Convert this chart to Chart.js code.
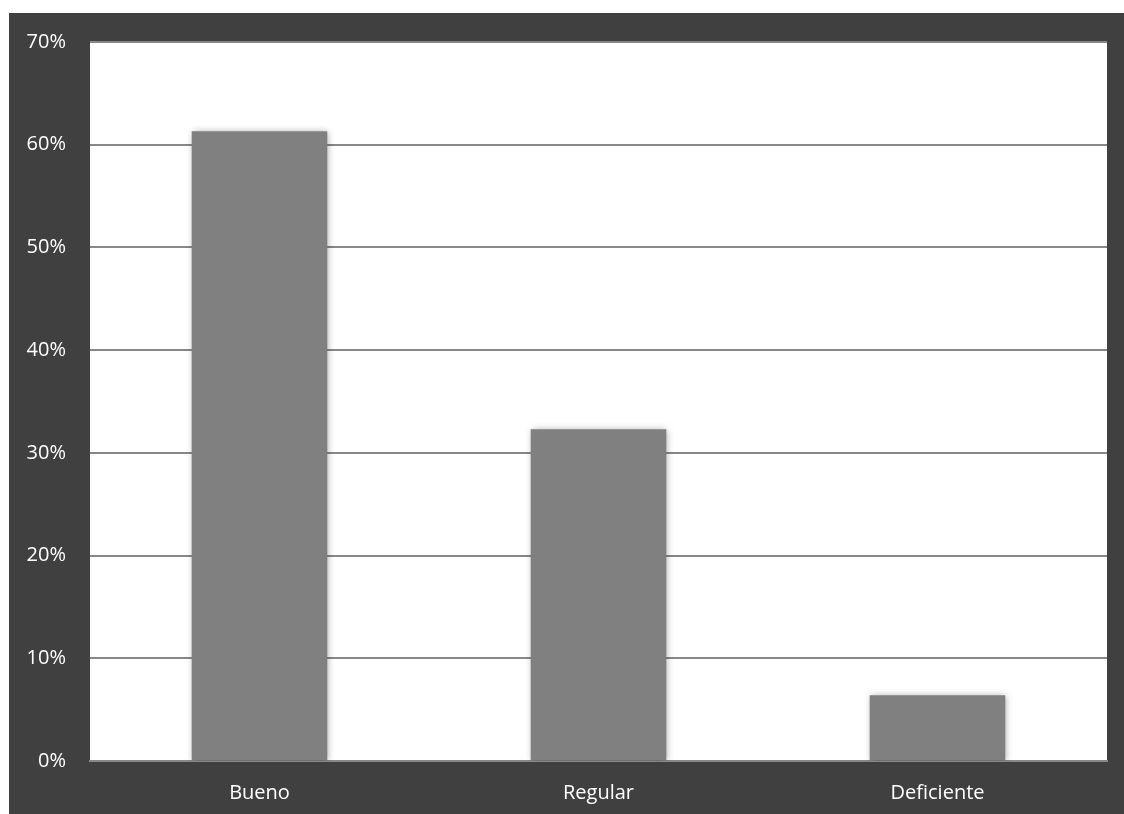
<!DOCTYPE html>
<html>
<head>
<meta charset="utf-8">
<script src="https://cdn.jsdelivr.net/npm/chart.js@4/dist/chart.umd.min.js"></script>
<style>
  body { margin: 0; background: #ffffff; }
  #box { position: absolute; left: 9px; top: 13px; width: 1115px; height: 801px; background: #404040; }
</style>
</head>
<body>
<div id="box"><canvas id="grafico"></canvas></div>
<script>
// Datos del gráfico
const categorias = ['Bueno', 'Regular', 'Deficiente'];
const porcentajes = [0.613, 0.323, 0.064];
const ticksY = [0, 0.1, 0.2, 0.3, 0.4, 0.5, 0.6, 0.7];

// fondo blanco del área de trazado
const fondoBlanco = {
  id: 'fondoBlanco',
  beforeDraw(chart) {
    const { ctx, chartArea: a } = chart;
    ctx.save();
    ctx.fillStyle = '#ffffff';
    ctx.fillRect(a.left, a.top, a.right - a.left, a.bottom - a.top);
    ctx.restore();
  }
};

// sombra suave de las barras
const sombra = {
  id: 'sombra',
  beforeDatasetsDraw(chart) {
    const ctx = chart.ctx;
    ctx.save();
    ctx.shadowColor = 'rgba(0,0,0,0.35)';
    ctx.shadowBlur = 7;
    ctx.shadowOffsetX = 1;
    ctx.shadowOffsetY = 1;
  },
  afterDatasetsDraw(chart) {
    chart.ctx.restore();
  }
};

new Chart(document.getElementById('grafico'), {
  type: 'bar',
  data: {
    labels: categorias,
    datasets: [{
      data: porcentajes,
      backgroundColor: '#808080',
      borderWidth: 0,
      categoryPercentage: 1,
      barPercentage: 0.4
    }]
  },
  options: {
    responsive: true,
    maintainAspectRatio: false,
    animation: false,
    layout: { padding: { top: 29, right: 17, left: 0, bottom: 0 } },
    plugins: { legend: { display: false }, tooltip: { enabled: false } },
    scales: {
      x: {
        grid: { display: false, drawTicks: false },
        border: { display: true, color: '#888888', width: 2 },
        ticks: { color: '#ffffff', font: { family: 'Open Sans', size: 20 }, padding: 20 },
        afterFit(scale) { scale.height = 53; }
      },
      y: {
        min: 0,
        max: 0.7,
        afterBuildTicks(scale) { scale.ticks = ticksY.map(v => ({ value: v })); },
        grid: { color: '#888888', lineWidth: 2, drawTicks: false },
        border: { display: false },
        ticks: {
          color: '#ffffff',
          font: { family: 'Open Sans', size: 20 },
          padding: 24,
          callback: v => Math.round(v * 100) + '%'
        },
        afterFit(scale) {
          scale.width = 81;
          scale.paddingTop = 0;
          scale.paddingBottom = 0;
        }
      }
    }
  },
  plugins: [fondoBlanco, sombra]
});
</script>
</body>
</html>
